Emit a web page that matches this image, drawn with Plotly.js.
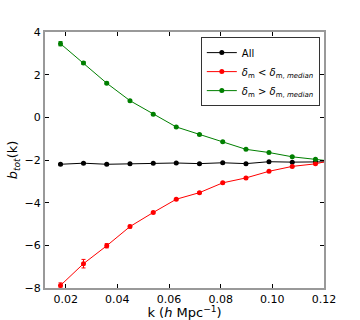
<!DOCTYPE html>
<html>
<head>
<meta charset="utf-8">
<script src="https://cdn.plot.ly/plotly-3.0.1.min.js"></script>
<style>
  html, body { margin: 0; padding: 0; background: #fff; }
  #plot { width: 360px; height: 320px; }
</style>
</head>
<body>
<div id="plot"></div>
<script>
// k bins (h/Mpc), last one sits just past the axis edge
const k = [0.0180, 0.0269, 0.0359, 0.0449, 0.0539, 0.0628, 0.0718, 0.0808, 0.0898, 0.0987, 0.1077, 0.1167, 0.1257];

const bAll = [-2.20, -2.15, -2.20, -2.17, -2.15, -2.14, -2.17, -2.13, -2.17, -2.08, -2.10, -2.09, -2.08];
const errAll = [0.04, 0.03, 0.03, 0.03, 0.02, 0.02, 0.02, 0.02, 0.02, 0.02, 0.02, 0.02, 0.02];

const bLow = [-7.88, -6.86, -6.02, -5.12, -4.46, -3.84, -3.53, -3.07, -2.84, -2.53, -2.30, -2.18, -1.94];
const errLow = [0.12, 0.20, 0.10, 0.06, 0.05, 0.04, 0.04, 0.03, 0.03, 0.03, 0.03, 0.03, 0.03];

const bHigh = [3.45, 2.55, 1.60, 0.78, 0.15, -0.45, -0.80, -1.15, -1.50, -1.65, -1.85, -1.97, -2.10];
const errHigh = [0.10, 0.06, 0.05, 0.04, 0.04, 0.03, 0.03, 0.03, 0.03, 0.03, 0.03, 0.03, 0.03];

const names = [
    "All",
    "<i>δ</i><sub>m</sub> &lt; <i>δ</i><sub>m, <i>median</i></sub>",
    "<i>δ</i><sub>m</sub> &gt; <i>δ</i><sub>m, <i>median</i></sub>"
];

function series(y, err, color, name) {
    return {
        x: k,
        y: y,
        name: name,
        type: "scatter",
        mode: "lines+markers",
        line: { color: color, width: 1 },
        marker: { color: color, size: 5 },
        error_y: { type: "data", array: err, visible: true, color: color, thickness: 1, width: 2 }
    };
}

const data = [
    series(bAll, errAll, "#000000", names[0]),
    series(bLow, errLow, "#ff0000", names[1]),
    series(bHigh, errHigh, "#007f00", names[2])
];

const axisStyle = {
    showgrid: false,
    zeroline: false,
    showline: true,
    linecolor: "#999999",
    linewidth: 2,
    mirror: "ticks",
    ticks: "inside",
    ticklen: 4,
    tickwidth: 1,
    tickcolor: "#000000",
    tickfont: { size: 11, color: "#000" }
};

const layout = {
    width: 360,
    height: 320,
    margin: { l: 45, r: 36, t: 32, b: 32 },
    paper_bgcolor: "#fff",
    plot_bgcolor: "#fff",
    font: { family: "DejaVu Sans", size: 11, color: "#000" },
    showlegend: true,
    legend: {
        x: 0.985, y: 0.98, xanchor: "right", yanchor: "top",
        bordercolor: "#333", borderwidth: 1, bgcolor: "#fff",
        font: { size: 10 },
        itemwidth: 30,
        tracegroupgap: 0
    },
    xaxis: Object.assign({}, axisStyle, {
        range: [0.012, 0.12],
        tickvals: [0.02, 0.04, 0.06, 0.08, 0.10, 0.12],
        ticktext: ["0.02", "0.04", "0.06", "0.08", "0.10", "0.12"],
        title: { text: "k (<i>h</i> Mpc<sup>−1</sup>)", font: { size: 13 }, standoff: 2 }
    }),
    yaxis: Object.assign({}, axisStyle, {
        range: [-8, 4],
        tickvals: [-8, -6, -4, -2, 0, 2, 4],
        ticktext: ["−8", "−6", "−4", "−2", "0", "2", "4"],
        title: { text: "<i>b<sub>tot</sub></i>(k)", font: { size: 13 }, standoff: 4 }
    })
};

Plotly.newPlot("plot", data, layout, { displayModeBar: false, staticPlot: true });
</script>
</body>
</html>
